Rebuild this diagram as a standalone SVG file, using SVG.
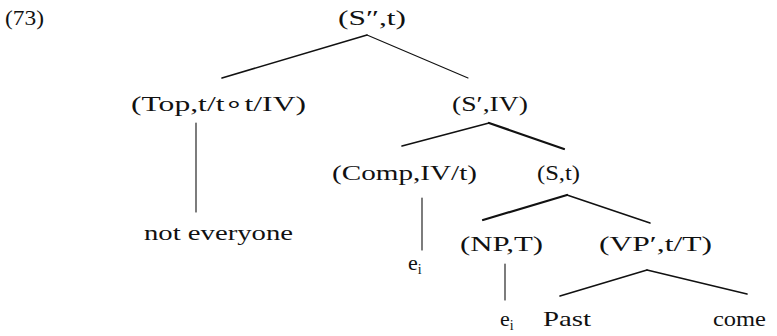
<svg xmlns="http://www.w3.org/2000/svg" width="777" height="336" viewBox="0 0 777 336">
<style>
text{font-family:"Liberation Serif","Times New Roman",serif;font-size:22px;fill:#111}
.sub{font-size:14px}
line{stroke:#111;stroke-linecap:round}
.t{stroke-width:1.1}
.m{stroke-width:1.6}
.k{stroke-width:2.2}
</style>
<rect width="777" height="336" fill="#fff"/>
<text id="label73" x="5" y="25" textLength="39" lengthAdjust="spacingAndGlyphs">(73)</text>
<g id="connectors">
<line class="m" x1="367" y1="35" x2="222" y2="78"/>
<line class="t" x1="367" y1="35" x2="468" y2="78" stroke="#555"/>
<line class="t" x1="196" y1="123" x2="196" y2="212"/>
<line class="m" x1="489" y1="123" x2="402" y2="146"/>
<line class="k" x1="489" y1="123" x2="564" y2="149"/>
<line class="t" x1="422" y1="198" x2="422" y2="250"/>
<line class="k" x1="567" y1="195" x2="483" y2="220"/>
<line class="m" x1="567" y1="195" x2="650" y2="223"/>
<line class="t" x1="505" y1="264" x2="505" y2="300"/>
<line class="m" x1="647" y1="270" x2="560" y2="296"/>
<line class="m" x1="647" y1="270" x2="747" y2="294"/>
</g>
<g id="n-S2"><text x="338" y="25" textLength="68" lengthAdjust="spacingAndGlyphs">(S″,t)</text></g>
<g id="n-Top"><text x="131" y="111" textLength="175" lengthAdjust="spacingAndGlyphs">(Top,t/t∘t/IV)</text></g>
<g id="n-S1"><text x="452" y="111" textLength="76" lengthAdjust="spacingAndGlyphs">(S′,IV)</text></g>
<g id="n-noteveryone"><text x="144" y="240" textLength="149" lengthAdjust="spacingAndGlyphs">not everyone</text></g>
<g id="n-Comp"><text x="332" y="180" textLength="145" lengthAdjust="spacingAndGlyphs">(Comp,IV/t)</text></g>
<g id="n-S"><text x="537" y="180" textLength="43" lengthAdjust="spacingAndGlyphs">(S,t)</text></g>
<g id="n-e1"><text x="408" y="270">e<tspan class="sub" dy="4">i</tspan></text></g>
<g id="n-NP"><text x="460" y="251" textLength="83" lengthAdjust="spacingAndGlyphs">(NP,T)</text></g>
<g id="n-VP"><text x="599" y="251" textLength="113" lengthAdjust="spacingAndGlyphs">(VP′,t/T)</text></g>
<g id="n-e2"><text x="500" y="326">e<tspan class="sub" dy="4">i</tspan></text></g>
<g id="n-Past"><text x="543" y="326" textLength="48" lengthAdjust="spacingAndGlyphs">Past</text></g>
<g id="n-come"><text x="713" y="326" textLength="53" lengthAdjust="spacingAndGlyphs">come</text></g>
</svg>
